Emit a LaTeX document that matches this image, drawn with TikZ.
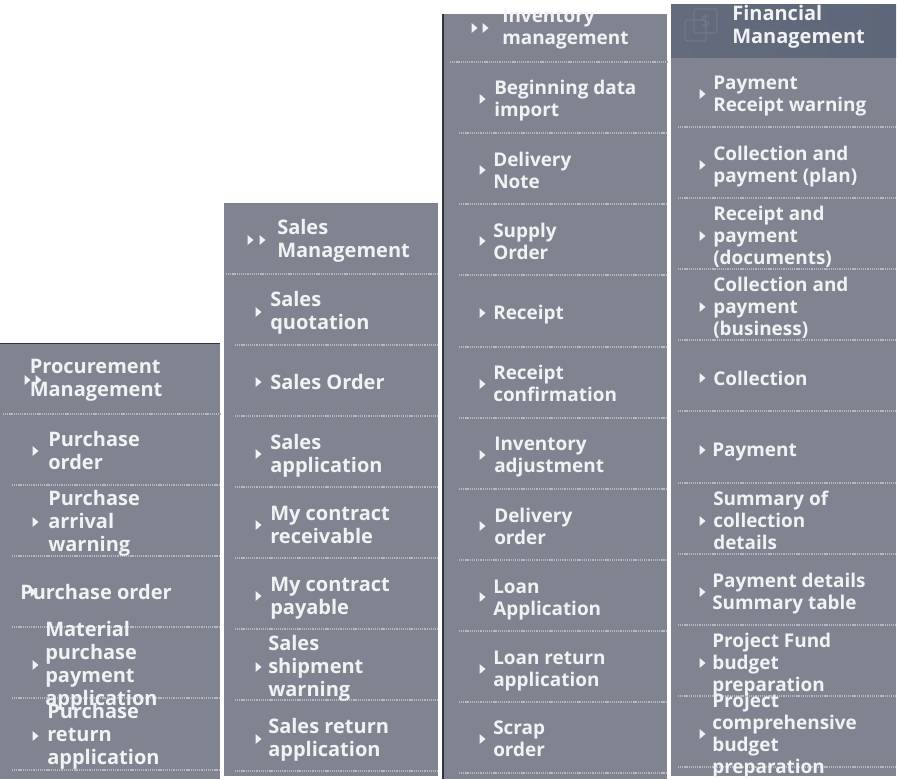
\documentclass[tikz,border=0pt]{standalone}
\usepackage{fontspec}
\setmainfont{Open Sans}
\usepackage{xcolor}
\usetikzlibrary{positioning,shadings}
\definecolor{panelgray}{HTML}{7F8490}
\definecolor{headgray}{HTML}{5E6779}
\definecolor{sepgray}{HTML}{B4B8BF}
\definecolor{edgegray}{HTML}{2F343D}
\definecolor{labelwhite}{HTML}{F1F2F4}
\begin{document}
\begin{tikzpicture}[x=0.75pt,y=-0.75pt,
  panel/.style={fill=panelgray,draw=none},
  sep/.style={sepgray,line width=0.8pt,dash pattern=on 0.8pt off 0.6pt},
  lbl/.style={anchor=west,align=left,inner sep=0pt,yshift=-0.75pt,text height=11pt,text depth=3pt,text=labelwhite,font=\fontsize{15}{17.25}\selectfont\bfseries},
  lbl2/.style={lbl,font=\fontsize{14.2}{16.5}\selectfont\bfseries},
  tip/.pic={\fill[labelwhite] (-2.5,-5)--(3.5,0)--(-2.5,5)--cycle;}]
\useasboundingbox (0,0) rectangle (898,779);
% procurement
\begin{scope}
\fill[panel] (0,343) rectangle (220,779);
\draw[edgegray,line width=0.75pt] (0,343)--(220,343);
\draw[sep] (3,414)--(220,414) (12,485)--(220,485) (12,556)--(220,556) (12,627)--(220,627) (12,698)--(220,698) (12,770)--(220,770);
\pic at (27,380) {tip}; \pic at (38,380) {tip};
\node[lbl] (proc) at (29.5,390.5) {Procurement\\Management};
\pic at (35,451) {tip};
\node[lbl] (porder) at (48,463.5) {Purchase\\order};
\pic at (35,522) {tip};
\node[lbl] (parrival) at (48,545.5) {Purchase\\arrival\\warning};
\pic at (33,592) {tip};
\node[lbl] (porder2) at (20,593.5) {Purchase order};
\pic at (35,665) {tip};
\node[lbl] (matpay) at (45,699.5) {Material\\purchase\\payment\\application};
\pic at (35,736) {tip};
\node[lbl] (preturn) at (47,758.5) {Purchase\\return\\application};
\end{scope}
% sales
\begin{scope}
\fill[panel] (224,203) rectangle (438,776);
\draw[gray,line width=0.75pt] (224,203)--(438,203);
\draw[sep] (226,274)--(438,274) (235,345)--(438,345) (235,416)--(438,416) (235,487)--(438,487) (235,558)--(438,558) (235,629)--(438,629) (235,700)--(438,700) (235,771)--(438,771);
\pic at (250,240) {tip}; \pic at (262,240) {tip};
\node[lbl] (sales) at (277,251.5) {Sales\\Management};
\pic at (258,312) {tip};
\node[lbl] (squote) at (270,323.5) {Sales\\quotation};
\pic at (258,382) {tip};
\node[lbl] (sorder) at (270,383.5) {Sales Order};
\pic at (258,454) {tip};
\node[lbl] (sapp) at (270,466.5) {Sales\\application};
\pic at (258,525) {tip};
\node[lbl] (recv) at (270,537.5) {My contract\\receivable};
\pic at (258,596) {tip};
\node[lbl] (payb) at (270,608.5) {My contract\\payable};
\pic at (258,667) {tip};
\node[lbl] (sship) at (268,690.5) {Sales\\shipment\\warning};
\pic at (258,739) {tip};
\node[lbl] (sreturn) at (268,750.5) {Sales return\\application};
\end{scope}
% inventory
\begin{scope}
\fill[panel] (443,14) rectangle (667,779);
\draw[edgegray,line width=1pt] (443,14)--(443,779);
\draw[sep] (450,62)--(667,62) (459,133)--(667,133) (459,204)--(667,204) (459,275)--(667,275) (459,347)--(667,347) (459,418)--(667,418) (459,489)--(667,489) (459,560)--(667,560) (459,631)--(667,631) (459,702)--(667,702) (459,773)--(667,773);
\pic at (474,28) {tip}; \pic at (485,28) {tip};
\node[lbl2] (inv) at (502,38.5) {Inventory\\management};
\pic at (482,99) {tip};
\node[lbl2] (begin) at (494,110.5) {Beginning data\\import};
\pic at (482,170) {tip};
\node[lbl2] (dnote) at (493,182.5) {Delivery\\Note};
\pic at (482,241) {tip};
\node[lbl2] (supply) at (493,253.5) {Supply\\Order};
\pic at (482,313) {tip};
\node[lbl2] (rcpt) at (493,313.5) {Receipt};
\pic at (482,384) {tip};
\node[lbl2] (rconf) at (493,395.5) {Receipt\\confirmation};
\pic at (482,455) {tip};
\node[lbl2] (adjust) at (494,466.5) {Inventory\\adjustment};
\pic at (482,526) {tip};
\node[lbl2] (dorder) at (494,538.5) {Delivery\\order};
\pic at (482,597) {tip};
\node[lbl2] (loan) at (493,609.5) {Loan\\Application};
\pic at (482,669) {tip};
\node[lbl2] (lreturn) at (493,680.5) {Loan return\\application};
\pic at (482,739) {tip};
\node[lbl2] (scrap) at (493,750.5) {Scrap\\order};
\end{scope}
% finance
\begin{scope}
\fill[panel] (671,4) rectangle (896,776);
\shade[left color=headgray!85!panelgray,right color=headgray] (671,4) rectangle (896,57);
\draw[panelgray!60!headgray,line width=0.9pt,rounded corners=2pt] (685,20) rectangle (706,41) (694,9) rectangle (717,33);
\node[font=\fontsize{13}{13}\selectfont,text=panelgray!60!headgray] (dollar) at (705.5,21) {\$};
\draw[sep] (678,127)--(896,127) (678,198)--(896,198) (678,269)--(896,269) (678,340)--(896,340) (678,411)--(896,411) (678,483)--(896,483) (678,554)--(896,554) (678,625)--(896,625) (678,696)--(896,696) (678,767)--(896,767);
\node[lbl] (fin) at (732,37.5) {Financial\\Management};
\pic at (702,94) {tip};
\node[lbl2] (warn) at (713,105.5) {Payment\\Receipt warning};
\pic at (702,165) {tip};
\node[lbl2] (plan) at (713,176.5) {Collection and\\payment (plan)};
\pic at (702,236) {tip};
\node[lbl2] (docs) at (713,258.5) {Receipt and\\payment\\(documents)};
\pic at (702,307) {tip};
\node[lbl2] (bus) at (713,329.5) {Collection and\\payment\\(business)};
\pic at (702,378) {tip};
\node[lbl2] (coll) at (713,379.5) {Collection};
\pic at (702,450) {tip};
\node[lbl2] (pay) at (712,450.5) {Payment};
\pic at (702,521) {tip};
\node[lbl2] (summ) at (713,543.5) {Summary of\\collection\\details};
\pic at (702,592) {tip};
\node[lbl2] (ptab) at (712,603.5) {Payment details\\Summary table};
\pic at (702,663) {tip};
\node[lbl2] (fund) at (712,685.5) {Project Fund\\budget\\preparation};
\pic at (702,734) {tip};
\node[lbl2] (compr) at (712,767.5) {Project\\comprehensive\\budget\\preparation};
\end{scope}
\end{tikzpicture}
\end{document}
